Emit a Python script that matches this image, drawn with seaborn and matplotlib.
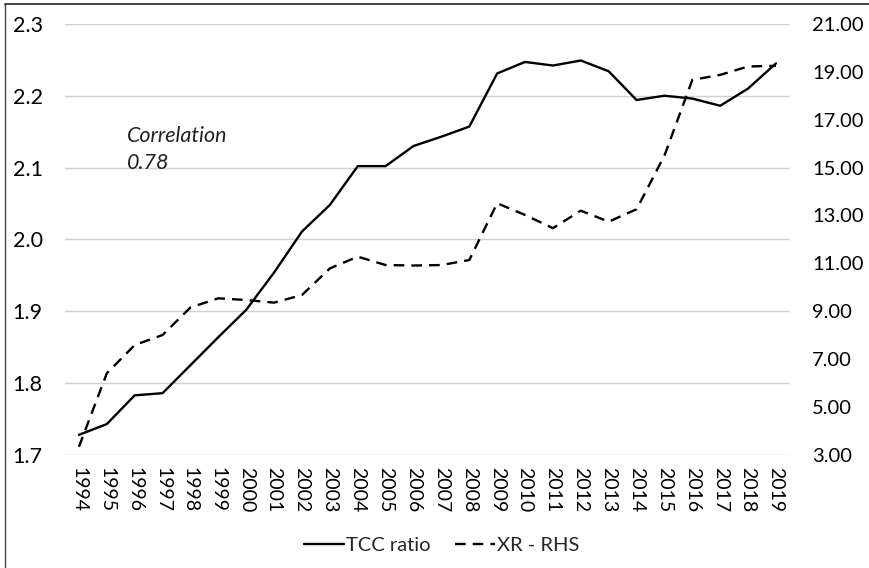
import matplotlib
matplotlib.use("Agg")
import matplotlib.pyplot as plt
from matplotlib.lines import Line2D
import seaborn as sns
import pandas as pd

years = list(range(1994, 2020))
tcc_ratio = [1.728, 1.743, 1.783, 1.786, 1.825, 1.864, 1.902, 1.954, 2.011, 2.048,
             2.102, 2.102, 2.130, 2.143, 2.157, 2.231, 2.247, 2.242, 2.249, 2.234,
             2.194, 2.200, 2.196, 2.186, 2.210, 2.245]
xr_rhs = [3.34, 6.41, 7.59, 8.01, 9.16, 9.54, 9.47, 9.36, 9.68, 10.79,
          11.28, 10.93, 10.91, 10.93, 11.14, 13.51, 13.02, 12.47, 13.20, 12.74,
          13.26, 15.50, 18.66, 18.87, 19.22, 19.25]
left_ticks = [1.7, 1.8, 1.9, 2.0, 2.1, 2.2, 2.3]
right_ticks = [3, 5, 7, 9, 11, 13, 15, 17, 19, 21]

df = pd.DataFrame({"year": years, "tcc": tcc_ratio, "xr": xr_rhs})

sns.set_theme(style="white")
plt.rcParams['font.family'] = ['Lato', 'DejaVu Sans']

fig = plt.figure(figsize=(8.69, 5.68), dpi=100)
ax = fig.add_axes([0.0748, 0.199, 0.8342, 0.759])
ax2 = ax.twinx()

sns.lineplot(data=df, x="year", y="tcc", ax=ax, color="black", linewidth=1.7,
             label="TCC ratio", legend=False)
sns.lineplot(data=df, x="year", y="xr", ax=ax2, color="black", linewidth=1.7,
             label="XR - RHS", legend=False)
ax2.lines[0].set_dashes([4.5, 3])

ax.set_xlim(1993.5, 2019.5)
ax.set_ylim(1.7, 2.3)
ax2.set_ylim(3, 21)
ax.set_yticks(left_ticks)
ax.set_yticklabels([f"{v:.1f}" for v in left_ticks])
ax2.set_yticks(right_ticks)
ax2.set_yticklabels([f"{v:.2f}" for v in right_ticks])
ax.set_xticks(years)
ax.set_xticklabels([str(y) for y in years], rotation=270)

for a in (ax, ax2):
    for s in a.spines.values():
        s.set_visible(False)
    a.set_xlabel("")
    a.set_ylabel("")
ax.grid(axis="y", color="#d0d0d0", linewidth=1.0)
ax.set_axisbelow(True)
ax.tick_params(axis="y", length=0, pad=16, labelsize=15.5, colors="black")
ax2.tick_params(axis="y", length=0, pad=16, labelsize=14.5, colors="black")
ax.tick_params(axis="x", length=0, pad=9, labelsize=14, colors="black")

ax.text(1995.72, 2.125, "Correlation\n0.78", fontsize=15.5, style="italic",
        ha="left", va="center", linespacing=1.45, color="#222222")

handles = [Line2D([0], [0], color="black", lw=1.7),
           Line2D([0], [0], color="black", lw=1.7, dashes=[4.5, 3])]
fig.legend(handles, ["TCC ratio", "XR - RHS"], loc="center",
           bbox_to_anchor=(442 / 869, 1 - 545 / 568), ncol=2, frameon=False,
           fontsize=14.5, handlelength=2.0, handletextpad=0.1, columnspacing=1.2)

# outer border (left and top edges visible)
fig.add_artist(Line2D([5 / 869, 5 / 869], [0, 1 - 4 / 568], transform=fig.transFigure,
                      color="#444444", lw=1.0))
fig.add_artist(Line2D([5 / 869, 1], [1 - 4 / 568, 1 - 4 / 568], transform=fig.transFigure,
                      color="#222222", lw=1.2))

fig.savefig("out.png", dpi=100)
